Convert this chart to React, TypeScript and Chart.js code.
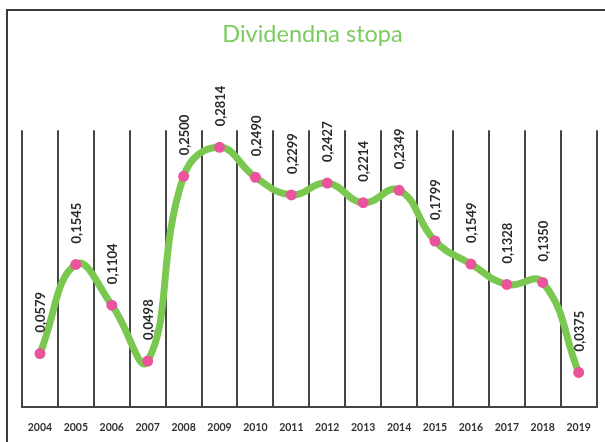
import React, { useEffect, useRef } from "react";
import { Chart, registerables } from "chart.js";

Chart.register(...registerables);

const years = ["2004","2005","2006","2007","2008","2009","2010","2011","2012","2013","2014","2015","2016","2017","2018","2019"];
const dividendYield = [0.0579,0.1545,0.1104,0.0498,0.25,0.2814,0.249,0.2299,0.2427,0.2214,0.2349,0.1799,0.1549,0.1328,0.135,0.0375];
const valueLabels = ["0,0579","0,1545","0,1104","0,0498","0,2500","0,2814","0,2490","0,2299","0,2427","0,2214","0,2349","0,1799","0,1549","0,1328","0,1350","0,0375"];
const chartTitle = "Dividendna stopa";

const FONT = "Lato, 'Open Sans', sans-serif";

const framePlugin = {
  id: "frame",
  beforeDraw(chart: any) {
    const ctx = chart.ctx;
    ctx.save();
    ctx.fillStyle = "#ffffff";
    ctx.fillRect(0, 0, chart.width, chart.height);
    ctx.strokeStyle = "#3a3a3a";
    ctx.lineWidth = 2;
    ctx.beginPath();
    ctx.moveTo(7, chart.height + 5);
    ctx.lineTo(7, 10);
    ctx.lineTo(chart.width + 5, 10);
    ctx.stroke();
    ctx.restore();
  },
};

const valueLabelPlugin = {
  id: "valueLabels",
  afterDatasetsDraw(chart: any) {
    const ctx = chart.ctx;
    const meta = chart.getDatasetMeta(0);
    ctx.save();
    ctx.font = "bold 13px " + FONT;
    ctx.fillStyle = "#2a2a2a";
    ctx.textAlign = "left";
    ctx.textBaseline = "middle";
    meta.data.forEach((pt: any, i: number) => {
      ctx.save();
      ctx.translate(pt.x + 1, pt.y - 21);
      ctx.rotate(-Math.PI / 2);
      ctx.fillText(valueLabels[i], 0, 0);
      ctx.restore();
    });
    ctx.restore();
  },
};

export default function App() {
  const ref = useRef<HTMLCanvasElement>(null);
  useEffect(() => {
    if (!ref.current) return;
    const chart = new Chart(ref.current, {
      type: "line",
      data: {
        labels: years,
        datasets: [
          {
            data: dividendYield,
            borderColor: "#7ac84f",
            borderWidth: 7,
            tension: 0.45,
            pointRadius: 5.5,
            pointBackgroundColor: "#ea549c",
            pointBorderWidth: 0,
            pointBorderColor: "#ea549c",
            fill: false,
          },
        ],
      },
      options: {
        animation: false,
        responsive: false,
        maintainAspectRatio: false,
        layout: { padding: { left: 22, right: 2, top: 0, bottom: 0 } },
        plugins: {
          legend: { display: false },
          tooltip: { enabled: false },
          title: {
            display: true,
            text: chartTitle,
            color: "#7ccb5e",
            font: { family: FONT, size: 23.5, weight: "normal" },
            padding: { top: 20, bottom: 82 },
          },
        },
        scales: {
          x: {
            offset: true,
            grid: { offset: true, color: "#454545", lineWidth: 2, drawTicks: false },
            border: { color: "#454545", width: 2 },
            ticks: {
              color: "#333333",
              font: { family: FONT, size: 10.5, weight: "bold" },
              padding: 14,
              maxRotation: 0,
              autoSkip: false,
            },
            afterFit: (scale: any) => {
              scale.height = 35;
            },
          },
          y: {
            display: false,
            min: 0,
            max: 0.3,
          },
        },
      },
      plugins: [framePlugin, valueLabelPlugin],
    });
    return () => chart.destroy();
  }, []);
  return (
    <div style={{ position: "absolute", left: 0, top: 0, width: 605, height: 442 }}>
      <canvas ref={ref} width={605} height={442} style={{ width: 605, height: 442 }} />
    </div>
  );
}
